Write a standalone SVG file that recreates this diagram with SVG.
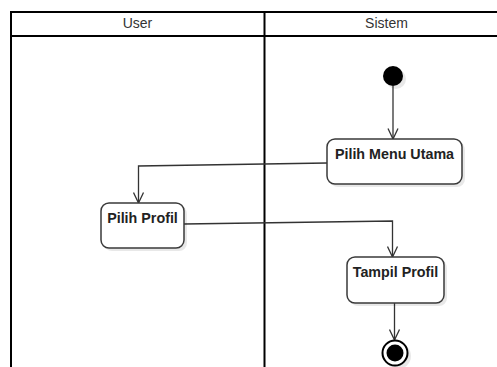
<svg xmlns="http://www.w3.org/2000/svg" width="497" height="367" viewBox="0 0 497 367">
  <style>
    .lane { fill: none; stroke: #000; stroke-width: 2; }
    .lane-title { font-family: "Liberation Sans", Arial, sans-serif; font-size: 14px; fill: #333; text-anchor: middle; }
    .act { fill: #fff; stroke: #3a3a3a; stroke-width: 1.5; }
    .shadow { fill: #000; opacity: 0.09; stroke: none; }
    .label { font-family: "Liberation Sans", Arial, sans-serif; font-size: 14.3px; font-weight: bold; fill: #222; text-anchor: middle; }
    .flow { fill: none; stroke: #333; stroke-width: 1.3; marker-end: url(#open-arrow); }
  </style>
  <defs>
    <marker id="open-arrow" viewBox="0 0 12 12" refX="11" refY="6" markerWidth="12" markerHeight="12" markerUnits="userSpaceOnUse" orient="auto">
      <path d="M0.5 1 L11 6 L0.5 11" fill="none" stroke="#333" stroke-width="1.3"/>
    </marker>
  </defs>

  <rect width="497" height="367" fill="#fff"/>

  <!-- swimlanes -->
  <g id="lanes">
    <path class="lane" d="M498 12 H11 V367 M11 36 H498 M264.5 12 V367"/>
    <text class="lane-title" x="137.5" y="28">User</text>
    <text class="lane-title" x="386.5" y="28">Sistem</text>
  </g>

  <!-- connectors -->
  <g id="connectors">
    <path class="flow" d="M393 86 V139"/>
    <path class="flow" d="M327 163 L138.5 166 V203"/>
    <path class="flow" d="M184 224 L392.5 221 V257"/>
    <path class="flow" d="M394.5 303 V340"/>
  </g>

  <!-- start -->
  <g id="start">
    <circle class="shadow" cx="396" cy="79" r="10"/>
    <circle cx="393" cy="76" r="10" fill="#000"/>
  </g>

  <g id="pilih-menu-utama">
    <rect class="shadow" x="330" y="142" width="135" height="45" rx="8"/>
    <rect class="act" x="327" y="139" width="135" height="45" rx="8"/>
    <text class="label" x="394.5" y="159">Pilih Menu Utama</text>
  </g>

  <g id="pilih-profil">
    <rect class="shadow" x="104" y="206" width="83" height="45" rx="8"/>
    <rect class="act" x="101" y="203" width="83" height="45" rx="8"/>
    <text class="label" x="142.5" y="223">Pilih Profil</text>
  </g>

  <g id="tampil-profil">
    <rect class="shadow" x="350" y="260" width="97" height="46" rx="8"/>
    <rect class="act" x="347" y="257" width="97" height="46" rx="8"/>
    <text class="label" x="395.5" y="277">Tampil Profil</text>
  </g>

  <!-- end -->
  <g id="end">
    <circle class="shadow" cx="398" cy="356" r="13"/>
    <circle cx="395" cy="353" r="12.5" fill="#fff" stroke="#000" stroke-width="2"/>
    <circle cx="395" cy="353" r="8.5" fill="#000"/>
  </g>
</svg>
